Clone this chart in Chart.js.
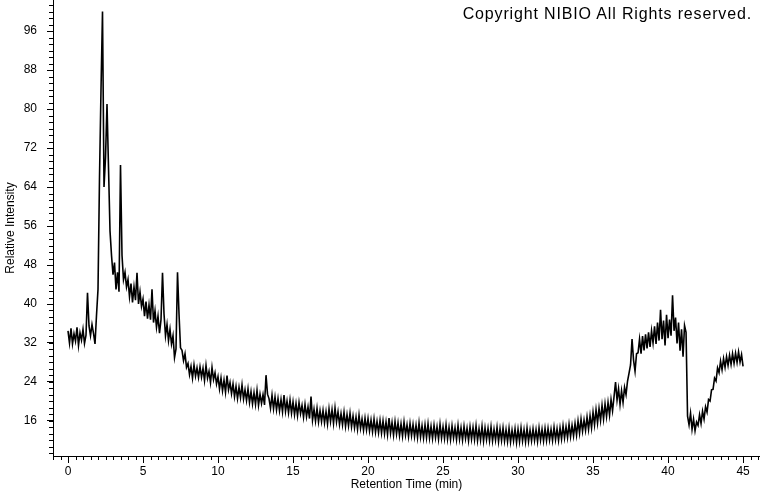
<!DOCTYPE html>
<html>
<head>
<meta charset="utf-8">
<script src="https://cdn.jsdelivr.net/npm/chart.js@4.4.1/dist/chart.umd.min.js"></script>
<style>
  html, body { margin: 0; padding: 0; background: #fff; }
  #wrap { position: relative; width: 760px; height: 492px; }
  #copyright { position: absolute; top: 5px; right: 8px; font: 16px 'Liberation Sans', Arial, sans-serif; letter-spacing: 0.85px; color: #000; }
</style>
</head>
<body>
<div id="wrap">
  <canvas id="chroma" width="760" height="492"></canvas>
  <div id="copyright">Copyright NIBIO All Rights reserved.</div>
</div>
<script>
// chromatogram — relative intensity vs retention time

Chart.defaults.font.family = "'Liberation Sans', Arial, sans-serif";
Chart.defaults.font.size = 12;
Chart.defaults.color = '#000';

// sampling grid of the trace (min)
const retentionStart = 0;
const retentionStep = 0.1;

// relative intensity, one row per minute
const relativeIntensity = [
  34.5, 32.0, 35.0, 31.8, 33.9, 32.4, 35.2, 31.5, 34.1, 32.6,
  34.8, 31.9, 33.6, 42.3, 35.5, 33.5, 35.8, 34.0, 31.8, 37.7,
  43.0, 66.0, 84.0, 100.0, 64.0, 70.0, 81.0, 68.0, 55.0, 50.0,
  46.0, 48.5, 43.0, 46.5, 42.5, 68.5, 50.0, 45.0, 46.5, 43.5,
  45.0, 41.5, 44.2, 40.3, 43.5, 40.8, 46.4, 40.0, 42.5, 39.5,
  41.0, 37.5, 40.5, 37.0, 39.8, 36.8, 43.0, 36.2, 38.6, 35.2,
  37.5, 34.0, 36.8, 46.4, 38.0, 33.5, 35.8, 32.5, 34.8, 31.8,
  33.5, 29.0, 30.8, 46.5, 38.0, 31.0, 30.5, 28.4, 29.8, 27.0,
  27.8, 25.5, 27.2, 24.8, 27.5, 25.2, 26.9, 24.9, 27.1, 25.0,
  26.8, 24.3, 27.4, 24.8, 26.2, 23.9, 27.0, 24.5, 25.9, 23.6,
  25.1, 22.6, 24.8, 22.2, 24.4, 21.9, 25.3, 22.4, 23.9, 21.6,
  23.6, 21.0, 23.1, 20.6, 22.9, 20.8, 23.4, 20.5, 22.4, 20.2,
  22.6, 19.8, 22.0, 19.5, 21.8, 19.4, 22.3, 19.2, 21.5, 19.6,
  21.4, 19.3, 25.4, 21.5, 20.6, 18.6, 21.3, 18.5, 20.9, 18.3,
  20.6, 18.1, 20.4, 17.9, 21.3, 18.0, 20.1, 17.7, 20.3, 17.6,
  19.9, 17.3, 19.6, 17.1, 19.8, 17.5, 19.2, 16.8, 19.4, 16.9,
  18.9, 16.5, 21.0, 16.2, 18.4, 16.0, 18.6, 15.8, 18.1, 15.9,
  18.2, 15.6, 17.9, 15.4, 18.5, 15.9, 18.3, 15.5, 18.7, 15.8,
  17.9, 15.3, 17.5, 15.2, 17.8, 14.9, 17.3, 15.0, 17.6, 14.8,
  17.0, 14.6, 16.8, 14.3, 17.2, 14.5, 16.4, 14.1, 16.6, 14.2,
  16.5, 14.0, 16.2, 13.8, 16.4, 13.7, 15.9, 13.6, 16.1, 13.5,
  16.0, 13.4, 15.8, 13.2, 16.6, 13.5, 15.7, 13.1, 15.9, 13.3,
  15.6, 13.0, 15.4, 12.9, 15.8, 13.1, 15.2, 12.8, 15.5, 13.0,
  15.3, 12.8, 15.1, 12.6, 15.6, 12.7, 15.0, 12.5, 15.2, 12.6,
  15.4, 12.5, 14.9, 12.4, 15.1, 12.6, 14.8, 12.3, 15.3, 12.5,
  14.8, 12.4, 15.2, 12.3, 14.7, 12.2, 15.0, 12.5, 14.6, 12.2,
  15.1, 12.3, 14.6, 12.1, 14.9, 12.4, 14.5, 12.0, 14.8, 12.3,
  14.7, 12.2, 15.0, 12.0, 14.4, 12.1, 14.9, 11.9, 14.6, 12.2,
  14.5, 12.0, 14.8, 11.9, 14.3, 12.1, 14.7, 11.8, 14.4, 12.0,
  14.6, 11.9, 14.2, 11.8, 14.5, 11.7, 14.1, 11.9, 14.4, 11.6,
  14.3, 11.8, 14.6, 11.9, 14.2, 11.7, 14.5, 11.8, 14.1, 11.9,
  14.4, 12.0, 14.2, 11.8, 14.6, 12.1, 14.3, 11.9, 14.5, 12.0,
  14.5, 12.1, 14.3, 12.0, 14.7, 12.2, 14.4, 12.0, 14.6, 12.3,
  15.0, 12.5, 14.8, 12.6, 15.3, 12.8, 15.1, 12.9, 15.5, 13.1,
  16.0, 13.5, 16.4, 13.9, 16.2, 14.1, 16.8, 14.3, 17.1, 14.6,
  17.8, 15.2, 18.3, 15.6, 18.6, 16.1, 19.2, 16.4, 19.5, 16.9,
  19.8, 17.2, 20.4, 18.1, 21.0, 24.0, 20.3, 22.6, 19.4, 22.2,
  19.8, 22.9, 21.4, 24.2, 25.8, 27.5, 32.8, 28.5, 26.2, 29.8,
  30.0, 32.8, 29.8, 33.4, 30.5, 33.8, 30.9, 34.2, 31.2, 34.5,
  32.0, 35.4, 31.8, 36.2, 32.5, 38.8, 32.8, 36.6, 31.5, 37.8,
  33.0, 36.8, 33.5, 41.8, 34.5, 37.2, 31.9, 36.2, 30.4, 34.8,
  29.2, 35.6, 34.2, 17.0, 15.2, 17.6, 14.3, 16.4, 14.0, 15.8,
  15.1, 17.3, 15.5, 18.0, 16.4, 18.9, 17.8, 20.4, 20.1, 22.4,
  22.5, 24.8, 24.2, 26.9, 25.9, 28.3, 26.5, 28.8, 27.0, 29.2,
  27.4, 29.5, 27.6, 29.8, 27.8, 29.9, 28.0, 30.2, 28.1, 29.6,
  27.2
];

const timeTicks = [0, 5, 10, 15, 20, 25, 30, 35, 40, 45];
const intensityTicks = [16, 24, 32, 40, 48, 56, 64, 72, 80, 88, 96];

const trace = relativeIntensity.map((v, i) => ({ x: +(retentionStart + i * retentionStep).toFixed(2), y: v }));

// small unlabelled ticks between the labelled ones
const minorTicks = {
  id: 'minorTicks',
  afterDraw(chart) {
    const { ctx, scales: { x, y } } = chart;
    ctx.save();
    ctx.strokeStyle = '#000';
    ctx.lineWidth = 1;
    ctx.beginPath();
    for (let k = Math.ceil(x.min * 2); k <= x.max * 2; k++) {
      const px = Math.round(x.getPixelForValue(k / 2)) + 0.5;
      ctx.moveTo(px, x.top);
      ctx.lineTo(px, x.top + 4);
    }
    for (let k = -6; k <= 65; k++) {
      const v = 16 + k * 4 / 3;
      if (v < y.min || v > y.max) continue;
      const py = Math.round(y.getPixelForValue(v)) + 0.5;
      ctx.moveTo(y.right - 4, py);
      ctx.lineTo(y.right, py);
    }
    ctx.stroke();
    ctx.restore();
  }
};

new Chart(document.getElementById('chroma'), {
  type: 'line',
  data: {
    datasets: [{ data: trace, borderColor: '#000', borderWidth: 1.6, pointRadius: 0, tension: 0, fill: false }]
  },
  options: {
    responsive: false,
    animation: false,
    layout: { padding: 0 },
    plugins: { legend: { display: false }, tooltip: { enabled: false } },
    scales: {
      x: {
        type: 'linear', min: -1, max: 46.13,
        afterBuildTicks: s => { s.ticks = timeTicks.map(v => ({ value: v })); },
        afterFit: s => { s.height = 36; s.paddingLeft = 0; s.paddingRight = 0; },
        grid: { drawOnChartArea: false, tickLength: 7, color: '#000' },
        border: { color: '#000' },
        ticks: { padding: 1, maxRotation: 0, autoSkip: false },
        title: { display: true, text: 'Retention Time (min)', padding: { top: 0, bottom: 0 } }
      },
      y: {
        min: 8.82, max: 102.36,
        afterBuildTicks: s => { s.ticks = intensityTicks.map(v => ({ value: v })); },
        afterFit: s => { s.width = 53; s.paddingTop = 0; s.paddingBottom = 0; },
        grid: { drawOnChartArea: false, tickLength: 6, color: '#000' },
        border: { color: '#000' },
        ticks: { padding: 10, autoSkip: false },
        title: { display: true, text: 'Relative Intensity', padding: { top: 3, bottom: 0 } }
      }
    }
  },
  plugins: [minorTicks]
});
</script>
</body>
</html>
